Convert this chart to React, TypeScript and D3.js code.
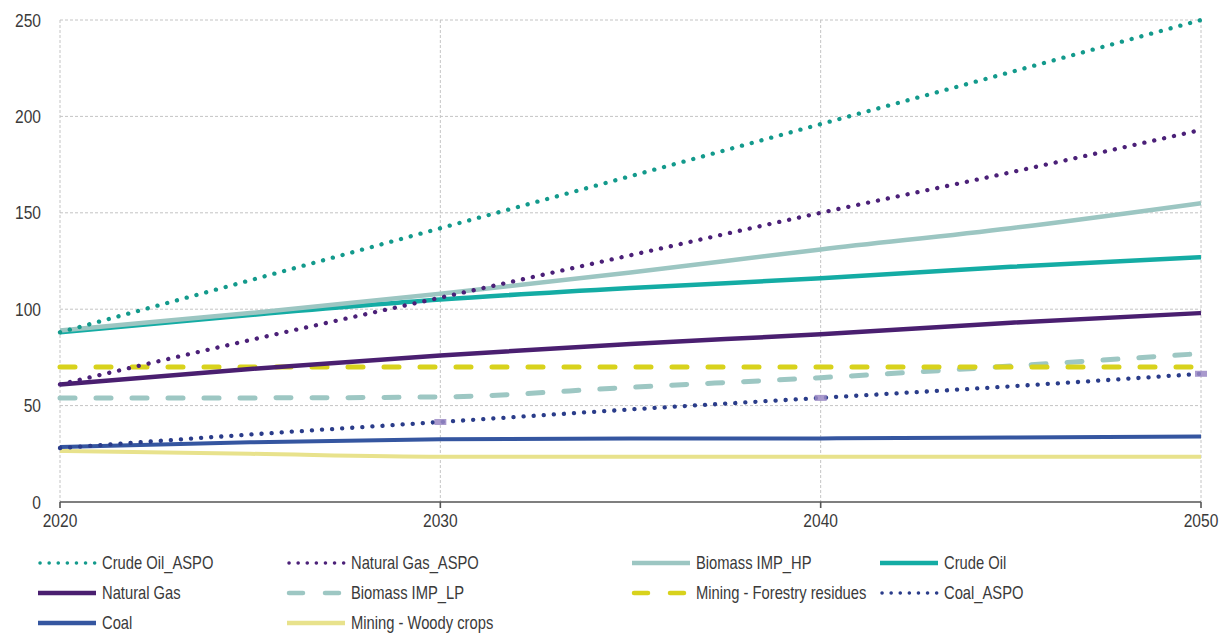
import React from "react";
import * as d3 from "d3";

const years = [2020, 2025, 2030, 2035, 2040, 2045, 2050];
const yTicks = [0, 50, 100, 150, 200, 250];
const xTicks = [2020, 2030, 2040, 2050];

const crudeOilAspo = [88, 115, 142, 169, 196, 223, 250];
const naturalGasAspo = [61, 84, 106, 128, 150, 171, 193];
const biomassHp = [89, 98, 108, 119, 131, 142, 155];
const crudeOil = [88, 97, 105, 111, 116, 122, 127];
const naturalGas = [61, 69, 76, 82, 87, 93, 98];
const biomassLp = [54, 54, 54.5, 59.5, 64.5, 70.5, 77];
const forestry = [70, 70, 70, 70, 70, 70, 70];
const coalAspo = [28, 35, 41.5, 48, 54, 60, 66.5];
const coal = [28.5, 31, 32.5, 33, 33, 33.5, 34];
const woody = [26.5, 25, 23.5, 23.5, 23.5, 23.5, 23.5];

const markerYears = [2030, 2040, 2050];

type Style = "dot" | "solid" | "dash";
interface S { name: string; values: number[]; color: string; style: Style; width: number; }

const series: S[] = [
  { name: "Mining - Woody crops", values: woody, color: "#e8e28c", style: "solid", width: 4 },
  { name: "Coal", values: coal, color: "#3556a0", style: "solid", width: 4 },
  { name: "Coal_ASPO", values: coalAspo, color: "#2a3c8a", style: "dot", width: 4.3 },
  { name: "Biomass IMP_LP", values: biomassLp, color: "#9dc7c3", style: "dash", width: 5 },
  { name: "Mining - Forestry residues", values: forestry, color: "#d8d21c", style: "dash", width: 5 },
  { name: "Natural Gas", values: naturalGas, color: "#4a1f70", style: "solid", width: 4.5 },
  { name: "Crude Oil", values: crudeOil, color: "#14aca4", style: "solid", width: 4.5 },
  { name: "Biomass IMP_HP", values: biomassHp, color: "#9cc6c2", style: "solid", width: 4.5 },
  { name: "Natural Gas_ASPO", values: naturalGasAspo, color: "#4b2078", style: "dot", width: 4.3 },
  { name: "Crude Oil_ASPO", values: crudeOilAspo, color: "#139a8c", style: "dot", width: 4.3 },
];

const legendOrder = [
  "Crude Oil_ASPO", "Natural Gas_ASPO", "Biomass IMP_HP", "Crude Oil",
  "Natural Gas", "Biomass IMP_LP", "Mining - Forestry residues", "Coal_ASPO",
  "Coal", "Mining - Woody crops",
];

const W = 1229, H = 635;
const left = 60, right = 1201, top = 20, bottom = 502;
const FONT = "'Liberation Sans', Arial, sans-serif";
const SX = 0.82;

function dashFor(s: S) {
  if (s.style === "dot") return "0.1 10";
  if (s.style === "dash") return "15 21";
  return undefined;
}

function NText({ x, y, anchor, size, children }: { x: number; y: number; anchor: "start" | "middle" | "end"; size: number; children: React.ReactNode }) {
  return (
    <text transform={`translate(${x},${y}) scale(${SX},1)`} textAnchor={anchor} fontSize={size} fill="#3a3a3a" dy="0.35em">
      {children}
    </text>
  );
}

export default function App() {
  const x = d3.scaleLinear().domain([2020, 2050]).range([left, right]);
  const y = d3.scaleLinear().domain([0, 250]).range([bottom, top]);
  const line = d3.line<number>().x((_, i) => x(years[i])).y((v) => y(v)).curve(d3.curveMonotoneX);

  const legendCols = [38, 287, 632, 880];
  const legendRows = [563, 593, 623];
  const byName = new Map(series.map((s) => [s.name, s]));

  return (
    <div style={{ position: "absolute", left: 0, top: 0 }}>
      <svg width={W} height={H} style={{ display: "block", background: "#fff" }} fontFamily={FONT}>
        {yTicks.filter((t) => t > 0).map((t) => (
          <line key={"gy" + t} x1={left} x2={right} y1={y(t)} y2={y(t)} stroke="#c4c4c4" strokeWidth={1} strokeDasharray="3 2" />
        ))}
        {xTicks.map((t) => (
          <line key={"gx" + t} x1={x(t)} x2={x(t)} y1={top} y2={bottom} stroke="#c4c4c4" strokeWidth={1} strokeDasharray="3 2" />
        ))}
        <line x1={left} x2={right} y1={bottom} y2={bottom} stroke="#555" strokeWidth={1.6} />
        {xTicks.map((t) => (
          <line key={"tx" + t} x1={x(t)} x2={x(t)} y1={bottom} y2={bottom + 6} stroke="#555" strokeWidth={1.6} />
        ))}
        {yTicks.map((t) => (
          <NText key={"ly" + t} x={41} y={y(t)} anchor="end" size={19}>{t}</NText>
        ))}
        {xTicks.map((t) => (
          <NText key={"lx" + t} x={x(t)} y={520} anchor="middle" size={19}>{t}</NText>
        ))}
        {series.map((s) => (
          <path key={s.name} d={line(s.values) || ""} fill="none" stroke={s.color} strokeWidth={s.width}
            strokeDasharray={dashFor(s)} strokeLinecap={s.style === "solid" ? "butt" : "round"} />
        ))}
        {markerYears.map((yr) => {
          const v = coalAspo[years.indexOf(yr)];
          return <rect key={"m" + yr} x={x(yr) - 6} y={y(v) - 3} width={12} height={6} fill="#9a88c4" opacity={0.85} />;
        })}
        {legendOrder.map((name, i) => {
          const s = byName.get(name)!;
          const cx = legendCols[i % 4];
          const cy = legendRows[Math.floor(i / 4)];
          return (
            <g key={"lg" + name}>
              <line x1={cx + (s.style === "solid" ? 0 : 2)} x2={cx + 58} y1={cy} y2={cy} stroke={s.color}
                strokeWidth={s.style === "dot" ? 3.5 : 4.5}
                strokeDasharray={s.style === "dot" ? "0.1 9" : s.style === "dash" ? "14 22" : undefined}
                strokeLinecap={s.style === "solid" ? "butt" : "round"} />
              <NText x={cx + 64} y={cy} anchor="start" size={18}>{name}</NText>
            </g>
          );
        })}
      </svg>
    </div>
  );
}
